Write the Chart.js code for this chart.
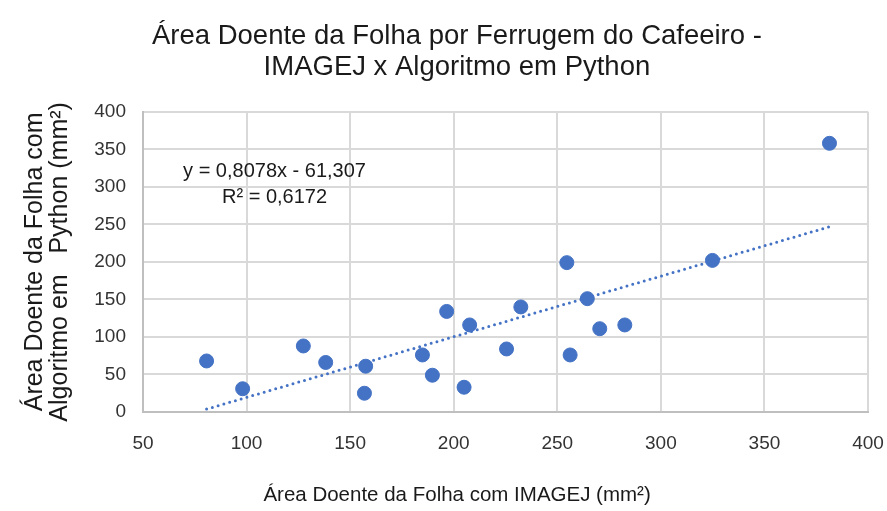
<!DOCTYPE html>
<html>
<head>
<meta charset="utf-8">
<script src="https://cdn.jsdelivr.net/npm/chart.js@4"></script>
<style>
  html, body { margin: 0; padding: 0; background: #fff; }
  #wrap { width: 887px; height: 511px; }
</style>
</head>
<body>
<div id="wrap"><canvas id="scatterChart" width="887" height="511"></canvas></div>
<script>
// IMAGEJ (x) vs Python algorithm (y), diseased leaf area in mm²
const imagejArea = [80.7, 98.1, 127.4, 138.2, 157.5, 156.9, 184.9, 189.7, 196.6, 205, 207.7, 225.5, 232.4, 254.6, 256.2, 264.5, 270.5, 282.6, 324.9, 381.4];
const pythonArea = [68, 31, 88, 66, 61, 25, 76, 49, 134, 33, 116, 84, 140, 199, 76, 151, 111, 116, 202, 358];
const xTicks = [50, 100, 150, 200, 250, 300, 350, 400];
const yTicks = [0, 50, 100, 150, 200, 250, 300, 350, 400];
const slope = 0.8078;
const intercept = -61.307;
const eqLines = ['y = 0,8078x - 61,307', 'R² = 0,6172'];

const c = {
  dot: '#4472c4',
  grid: '#d9d9d9',
  text: '#1a1a1a',
  tick: '#333333'
};
const font = "'Liberation Sans', Arial, sans-serif";

const points = imagejArea.map((x, i) => ({ x: x, y: pythonArea[i] }));
const xMin = Math.min(...imagejArea), xMax = Math.max(...imagejArea);
const trend = [xMin, xMax].map(x => ({ x: x, y: slope * x + intercept }));

// equation label drawn inside the plot
const eqLabel = {
  id: 'eqLabel',
  afterDatasetsDraw(chart) {
    const { ctx, scales: { x, y } } = chart;
    ctx.save();
    ctx.font = '20px ' + font;
    ctx.fillStyle = c.text;
    ctx.textAlign = 'center';
    ctx.textBaseline = 'middle';
    ctx.fillText(eqLines[0], x.getPixelForValue(113.5), y.getPixelForValue(321));
    ctx.fillText(eqLines[1], x.getPixelForValue(113.5), y.getPixelForValue(286));
    ctx.restore();
  }
};

const sp = n => '\u00a0'.repeat(n);
new Chart(document.getElementById('scatterChart'), {
  type: 'scatter',
  data: {
    datasets: [{
      label: 'Área',
      data: points,
      backgroundColor: c.dot,
      borderColor: c.dot,
      pointRadius: 7,
      pointHoverRadius: 7,
      order: 1
    }, {
      type: 'line',
      label: 'Tendência',
      data: trend,
      borderColor: c.dot,
      borderWidth: 3,
      borderDash: [0, 6],
      borderCapStyle: 'round',
      pointRadius: 0,
      fill: false,
      order: 2
    }]
  },
  options: {
    responsive: false,
    animation: false,
    layout: { padding: { left: 0, right: 19, top: 0, bottom: 0 } },
    plugins: {
      legend: { display: false },
      tooltip: { enabled: false },
      title: {
        display: true,
        text: [sp(6) + 'Área Doente da Folha por Ferrugem do Cafeeiro -', sp(6) + 'IMAGEJ x Algoritmo em Python'],
        color: c.text,
        font: { family: font, size: 27.5, weight: 'normal', lineHeight: 1.16 },
        padding: { top: 20, bottom: 28 }
      }
    },
    scales: {
      x: {
        type: 'linear',
        min: 50,
        max: 400,
        afterBuildTicks: s => { s.ticks = xTicks.map(v => ({ value: v })); },
        afterFit: s => { s.height = 99; s.paddingLeft = 0; s.paddingRight = 0; },
        grid: { color: c.grid, lineWidth: 2, drawTicks: false },
        border: { color: '#bfbfbf', width: 2 },
        ticks: { color: c.tick, padding: 20, font: { family: font, size: 19 } },
        title: {
          display: true,
          text: 'Área Doente da Folha com IMAGEJ (mm²)' + sp(17),
          color: c.text,
          font: { family: font, size: 20.5, lineHeight: 1.2 },
          padding: { top: 0, bottom: 3 }
        }
      },
      y: {
        type: 'linear',
        min: 0,
        max: 400,
        afterBuildTicks: s => { s.ticks = yTicks.map(v => ({ value: v })); },
        afterFit: s => { s.width = 143; },
        grid: { color: c.grid, lineWidth: 2, drawTicks: false },
        border: { color: '#bfbfbf', width: 2 },
        ticks: { color: c.tick, padding: 17, font: { family: font, size: 19 } },
        title: {
          display: true,
          text: ['Área Doente da Folha com', 'Algoritmo em' + sp(3) + 'Python (mm²)'],
          color: c.text,
          font: { family: font, size: 25, lineHeight: 1.0 },
          padding: { top: 23, bottom: 0 }
        }
      }
    }
  },
  plugins: [eqLabel]
});
</script>
</body>
</html>
